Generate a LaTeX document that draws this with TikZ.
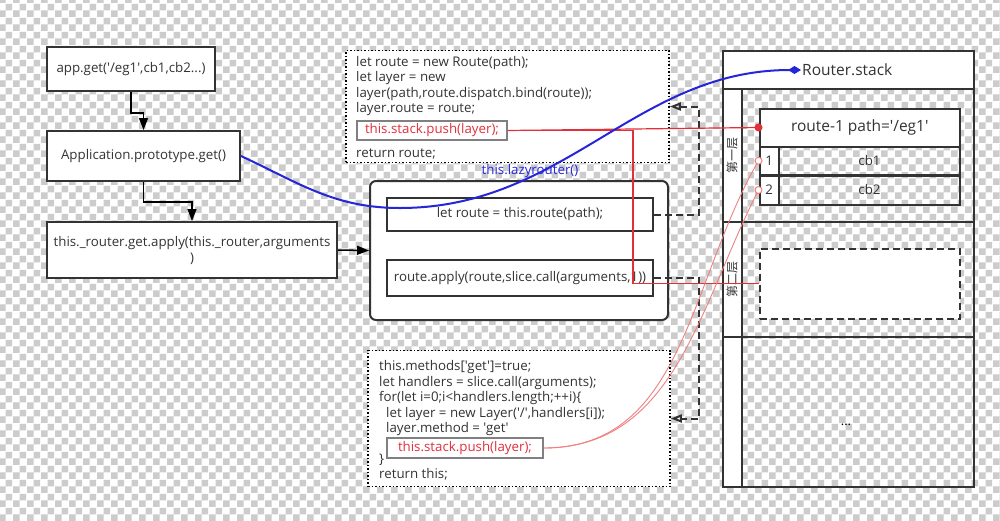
\documentclass[tikz,border=0pt]{standalone}
\usepackage{fontspec}
\setmainfont{Open Sans}[Ligatures=TeXOff]
\newfontfamily\cjk{Noto Sans CJK SC}
\usetikzlibrary{arrows.meta,patterns}

\definecolor{linegray}{HTML}{333333}
\definecolor{pushred}{HTML}{E0303A}
\definecolor{thinred}{HTML}{F08080}
\definecolor{lazyblue}{HTML}{2626D9}
\definecolor{checkgray}{HTML}{CCCCCC}

% transparent background as a checkerboard
\pgfdeclarepatternformonly{checker}{\pgfqpoint{0pt}{0pt}}{\pgfqpoint{14pt}{14pt}}{\pgfqpoint{14pt}{14pt}}{%
  \pgfpathrectangle{\pgfqpoint{0pt}{0pt}}{\pgfqpoint{7pt}{7pt}}%
  \pgfpathrectangle{\pgfqpoint{7pt}{7pt}}{\pgfqpoint{7pt}{7pt}}%
  \pgfusepath{fill}%
}

\tikzset{
  box/.style={draw=linegray, line width=2pt, fill=white, inner sep=0pt, align=center,
    font=\fontsize{13.3}{16}\selectfont, text=linegray},
  codebox/.style={draw=black, line width=1.5pt, dash pattern=on 1.5pt off 2pt, fill=white, inner sep=0pt},
  code/.style={inner sep=0pt, anchor=north west, align=left, font=\fontsize{13.3}{15.4}\selectfont, text=linegray},
  pushbox/.style={draw=gray, line width=1.2pt, fill=white, inner sep=0pt, text=pushred,
    font=\fontsize{13.3}{15}\selectfont},
  cell/.style={draw=linegray, line width=2pt, inner sep=0pt, font=\fontsize{13.3}{15}\selectfont, text=linegray},
  flow/.style={draw=black, line width=1.5pt, -{Triangle[length=12pt,width=9pt]}},
  back/.style={draw=linegray, line width=2pt, dash pattern=on 7pt off 4pt, -{Triangle[open,length=11pt,width=8pt]}},
  redline/.style={draw=pushred, line width=1.2pt},
  thinline/.style={draw=thinred, line width=0.9pt},
}

\begin{document}
\begin{tikzpicture}[x=1pt,y=-1pt]

% Background
\fill[white] (0,0) rectangle (1000,520);
\fill[pattern=checker, pattern color=checkgray] (0,0) rectangle (1000,520);
\useasboundingbox (0,0) rectangle (1000,520);

% Call chain on the left
\node[box, minimum width=168pt, minimum height=44pt] (appget) at (131,69) {app.get('/eg1',cb1,cb2...)};
\node[box, minimum width=193pt, minimum height=50pt] (appproto) at (143.5,156) {Application.prototype.get()};
\node[box, minimum width=290pt, minimum height=56pt] (routerget) at (192,250) {this.\_router.get.apply(this.\_router,arguments\\)};

% Route body (top dotted box)
\node[codebox, minimum width=323pt, minimum height=112pt] (routebody) at (507.5,106.5) {};
\node[code] (tcode) at (356,56) {let route = new Route(path);\\let layer = new\\layer(path,route.dispatch.bind(route));\\layer.route = route;};
\node[pushbox, minimum width=150pt, minimum height=19pt] (tpush) at (432,130.5) {this.stack.push(layer);};
\node[code] (tret) at (356,149) {return route;};

% Router.get body (rounded box)
\node[box, rounded corners=6pt, minimum width=298pt, minimum height=139pt] (routerbody) at (519,250.5) {};
\node[box, minimum width=266pt, minimum height=33pt] (lazy) at (520,214.5) {let route = this.route(path);};
\node[box, minimum width=266pt, minimum height=36pt] (apply) at (520,278) {route.apply(route,slice.call(arguments,1))};

% Route.get body (bottom dotted box)
\node[codebox, minimum width=302pt, minimum height=136pt] (methodbody) at (519,418.5) {};
\node[code] (mcode) at (379,360.5) {this.methods['get']=true;\\let handlers = slice.call(arguments);\\for(let i=0;i<handlers.length;++i)\{\\\hspace*{7pt}let layer = new Layer('/',handlers[i]);\\\hspace*{7pt}layer.method = 'get'\\[15.4pt]\}\\return this;};
\node[pushbox, minimum width=156pt, minimum height=20pt] (bpush) at (465,448) {this.stack.push(layer);};

% Router.stack
\node[cell, fill=white, minimum width=251.5pt, minimum height=38pt] (stackhead) at (848.25,69.5) {};
\node[inner sep=1pt, anchor=west, font=\fontsize{15.5}{18}\selectfont, text=linegray] (rstack) at (801,70) {Router.stack};
\node[cell, fill=white, rotate=90, minimum width=133pt, minimum height=19pt, font=\cjk\fontsize{12}{14}\selectfont] (col1) at (732,155) {第一层};
\node[cell, fill=white, rotate=90, minimum width=115pt, minimum height=19pt, font=\cjk\fontsize{12}{14}\selectfont] (col2) at (732,279) {第二层};
\node[cell, fill=white, rotate=90, minimum width=150pt, minimum height=19pt] (col3) at (732,411.5) {};
\node[cell, minimum width=232.5pt, minimum height=133pt] (sec1) at (857.75,155) {};
\node[cell, minimum width=232.5pt, minimum height=115pt] (sec2) at (857.75,279) {};
\node[cell, minimum width=232.5pt, minimum height=150pt] (sec3) at (857.75,411.5) {};

% Layer one: route-1 and its handlers
\node[cell, fill=white, minimum width=200.5pt, minimum height=38pt, font=\fontsize{15.5}{18}\selectfont] (route1) at (859.75,127.5) {route-1 path='/eg1'};
\node[cell, fill=white, minimum width=19.5pt, minimum height=28.5pt] (n1) at (769.25,160.75) {1};
\node[cell, minimum width=181pt, minimum height=28.5pt] (cb1) at (869.5,160.75) {cb1};
\node[cell, fill=white, minimum width=19.5pt, minimum height=29pt] (n2) at (769.25,190) {2};
\node[cell, minimum width=181pt, minimum height=29pt] (cb2) at (869.5,190) {cb2};

% Layer two: empty slot
\node[draw=linegray, line width=2pt, dash pattern=on 7pt off 4pt, fill=white, minimum width=200pt, minimum height=70pt] (slot2) at (860,283.5) {};

% More layers
\node[font=\fontsize{13}{15}\selectfont, text=black] (more) at (846,425) {...};

% Call flow
\draw[flow] (appget.south) -- ++(0,21) -| (appproto.north);
\draw[flow] (appproto.south) -- ++(0,20) -| (routerget.north);
\draw[flow] (routerget.east) -- (routerbody.west);

% Back references
\draw[back] (lazy.east) -- ++(45,0) |- (routebody.east);
\draw[back] (apply.east) -- ++(45,0) |- (methodbody.east);

% Pushes onto the stack
\coordinate (redturn) at (633,283.5);
\draw[redline] (tpush.east) -- (route1.west);
\draw[redline] (tpush.east) -| (redturn) -- (slot2.west);
\draw[thinline] (bpush.east) to[out=0,in=240] (n1.west);
\draw[thinline] (bpush.east) to[out=0,in=243] (n2.west);
\fill[pushred] (route1.west) circle[radius=4pt];
\filldraw[fill=white, draw=thinred, line width=1pt] (n1.west) circle[radius=3.5pt];
\filldraw[fill=white, draw=thinred, line width=1pt] (n2.west) circle[radius=3.5pt];

% Lazy router
\coordinate (lowpt) at (400,208);
\draw[draw=lazyblue, line width=2pt, -{Diamond[length=13pt,width=8pt]}] (appproto.east) to[out=-25,in=180] (lowpt) to[out=0,in=180] (rstack.west);
\node[text=lazyblue, font=\fontsize{13.3}{15}\selectfont] (lazylbl) at (530,171) {this.lazyrouter()};

\end{tikzpicture}
\end{document}
